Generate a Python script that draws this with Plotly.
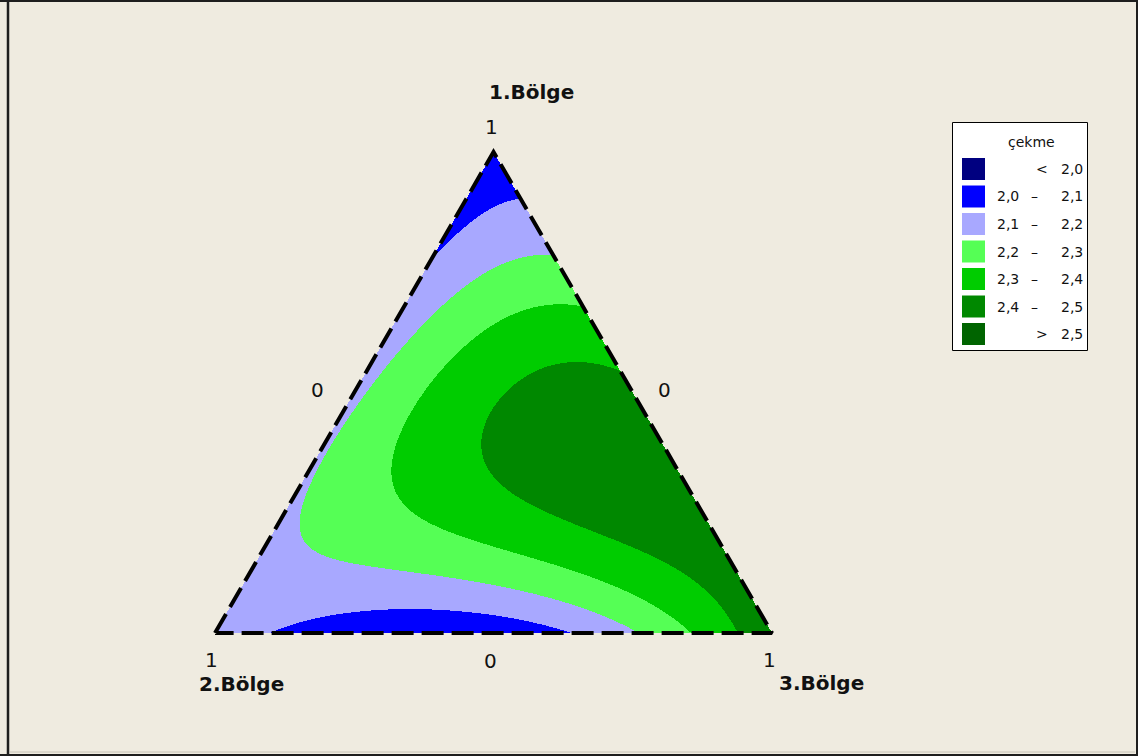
import numpy as np
import plotly.graph_objects as go

W, H = 1138, 756

# Mixture readings: component fractions and measured shrinkage (çekme)
bolge1 = [1.000, 0.000, 0.000,
          0.894, 0.879, 0.844, 0.771, 0.000, 0.021, 0.048, 0.054, 0.042, 0.033, 0.017, 0.000,
          0.780, 0.790, 0.769, 0.719, 0.615, 0.568, 0.484, 0.339, 0.193, 0.173, 0.152, 0.131,
          0.114, 0.094, 0.069, 0.000, 0.400, 0.260,
          0.713, 0.651, 0.484, 0.374, 0.312, 0.220, 0.173, 0.125, 0.062, 0.000,
          0.530, 0.526, 0.547, 0.536, 0.499, 0.407, 0.339, 0.304, 0.249, 0.193, 0.152, 0.116, 0.000,
          0.339, 0.235, 0.339, 0.318, 0.069, 0.500, 0.250, 0.650, 0.000]
bolge2 = [0.000, 1.000, 0.000,
          0.000, 0.047, 0.118, 0.229, 0.901, 0.855, 0.739, 0.617, 0.503, 0.454, 0.399, 0.363,
          0.000, 0.037, 0.102, 0.186, 0.359, 0.400, 0.484, 0.629, 0.774, 0.778, 0.748, 0.579,
          0.526, 0.423, 0.333, 0.241, 0.568, 0.708,
          0.000, 0.161, 0.366, 0.498, 0.534, 0.498, 0.378, 0.223, 0.206, 0.142,
          0.000, 0.021, 0.100, 0.160, 0.243, 0.325, 0.354, 0.359, 0.279, 0.189, 0.160, 0.071, 0.070,
          0.210, 0.047, 0.426, 0.616, 0.813, 0.500, 0.750, 0.350, 0.620]
bolge3 = [0.000, 0.000, 1.000,
          0.106, 0.074, 0.038, 0.000, 0.099, 0.124, 0.213, 0.329, 0.455, 0.513, 0.584, 0.637,
          0.220, 0.173, 0.129, 0.095, 0.026, 0.032, 0.032, 0.032, 0.033, 0.049, 0.100, 0.290,
          0.360, 0.483, 0.598, 0.759, 0.032, 0.032,
          0.287, 0.188, 0.150, 0.128, 0.154, 0.282, 0.449, 0.652, 0.732, 0.858,
          0.470, 0.453, 0.353, 0.304, 0.258, 0.268, 0.307, 0.337, 0.472, 0.618, 0.688, 0.813, 0.930,
          0.451, 0.718, 0.235, 0.066, 0.118, 0.000, 0.000, 0.000, 0.380]
cekme = [2.06, 2.14, 2.47,
         2.10, 2.10, 2.10, 2.10, 2.10, 2.10, 2.10, 2.10, 2.10, 2.10, 2.10, 2.10,
         2.20, 2.20, 2.20, 2.20, 2.20, 2.20, 2.20, 2.20, 2.20, 2.20, 2.20, 2.20,
         2.20, 2.20, 2.20, 2.20, 2.20, 2.20,
         2.30, 2.30, 2.30, 2.30, 2.30, 2.30, 2.30, 2.30, 2.30, 2.30,
         2.40, 2.40, 2.40, 2.40, 2.40, 2.40, 2.40, 2.40, 2.40, 2.40, 2.40, 2.40, 2.40,
         2.46, 2.47, 2.35, 2.25, 2.13, 2.18, 2.18, 2.15, 2.04]

levels = [2.0, 2.1, 2.2, 2.3, 2.4, 2.5]
band_colors = ["#000080", "#0000FF", "#A8A8FF", "#55FF55", "#00CC00", "#008800", "#006400"]
band_lo = ["", "2,0", "2,1", "2,2", "2,3", "2,4", ""]
band_mid = ["<", "–", "–", "–", "–", "–", ">"]
band_hi = ["2,0", "2,1", "2,2", "2,3", "2,4", "2,5", "2,5"]

BG = "#EFEBE0"


def quartic_terms(a, b, c):
    # Scheffé quartic mixture model
    return np.stack([a, b, c, a * b, a * c, b * c,
                     a * b * (a - b), a * c * (a - c), b * c * (b - c),
                     a * b * (a - b) ** 2, a * c * (a - c) ** 2, b * c * (b - c) ** 2,
                     a * a * b * c, a * b * b * c, a * b * c * c], axis=-1)


X = quartic_terms(np.array(bolge1), np.array(bolge2), np.array(bolge3))
coef, *_ = np.linalg.lstsq(X, np.array(cekme), rcond=None)

# Cartesian simplex: horizontal u, vertical v (= component 1)
nu, nv = 557, 481
u = (np.arange(nu) + 0.5) / nu
v = (np.arange(nv) + 0.5) / nv
U, V = np.meshgrid(u, v)
x1 = V
x3 = U - 0.5 * V
x2 = 1.0 - x1 - x3
inside = (x2 >= -1e-9) & (x3 >= -1e-9)
Z = quartic_terms(x1, x2, x3) @ coef
band = np.digitize(Z, levels).astype(float)
band[~inside] = np.nan

n = len(band_colors)
colorscale = []
for i, c in enumerate(band_colors):
    colorscale += [[i / n, c], [(i + 1) / n, c]]

fig = go.Figure()
fig.add_trace(go.Heatmap(x=u, y=v, z=band, zmin=-0.5, zmax=n - 0.5,
                         colorscale=colorscale, showscale=False, hoverinfo="skip"))
fig.add_trace(go.Scatter(x=[0, 0.5, 1, 0], y=[0, 1, 0, 0], mode="lines",
                         line=dict(color="black", width=4, dash="22px,8px"),
                         hoverinfo="skip", showlegend=False))


def px(x):
    return x / W


def py(y):
    return 1 - y / H


annotations = []
lab_font = dict(family="DejaVu Sans", size=20, color="#111111")
bold_font = dict(family="DejaVu Sans", size=20, color="#111111", weight="bold")


def add_text(x, y, text, font, xanchor="center"):
    annotations.append(dict(x=px(x), y=py(y), xref="paper", yref="paper", text=text,
                            showarrow=False, font=font, xanchor=xanchor, yanchor="middle"))


add_text(531, 92, "<b>1.Bölge</b>", bold_font)
add_text(491, 127, "1", lab_font)
add_text(317, 390, "0", lab_font)
add_text(665, 390, "0", lab_font)
add_text(490, 661, "0", lab_font)
add_text(211, 660, "1", lab_font)
add_text(769, 660, "1", lab_font)
add_text(241, 684, "<b>2.Bölge</b>", bold_font)
add_text(821, 683, "<b>3.Bölge</b>", bold_font)

shapes = []
# legend box
shapes.append(dict(type="rect", xref="paper", yref="paper", x0=px(952.5), x1=px(1087.5),
                   y0=py(350.5), y1=py(122.5), fillcolor="white",
                   line=dict(color="black", width=1)))
leg_font = dict(family="DejaVu Sans", size=14, color="#111111")
add_text(1031, 142, "çekme", leg_font)
for i in range(n):
    yc = 169 + i * 27.5
    shapes.append(dict(type="rect", xref="paper", yref="paper", x0=px(962), x1=px(985),
                       y0=py(yc + 11), y1=py(yc - 11), fillcolor=band_colors[i],
                       line=dict(width=0)))
    if band_lo[i]:
        add_text(1021, yc, band_lo[i], leg_font, xanchor="right")
        add_text(1034, yc, band_mid[i], leg_font)
    else:
        add_text(1042, yc, band_mid[i], leg_font)
    add_text(1059, yc, band_hi[i], leg_font, xanchor="left")

# window frame
frame = "#1e1e1e"
for x0, y0, x1_, y1_, w in [(8, 0, 8, H, 2.5), (0, 1, W, 1, 2), (1137, 0, 1137, H, 2),
                            (0, 755, W, 755, 2)]:
    shapes.append(dict(type="line", xref="paper", yref="paper", x0=px(x0), x1=px(x1_),
                       y0=py(y0), y1=py(y1_), line=dict(color=frame, width=w)))
shapes.append(dict(type="line", xref="paper", yref="paper", x0=px(10), x1=px(1135),
                   y0=py(752), y1=py(752), line=dict(color="#C8C4B8", width=1)))

fig.update_layout(
    width=W, height=H, margin=dict(l=0, r=0, t=0, b=0),
    paper_bgcolor=BG, plot_bgcolor=BG,
    xaxis=dict(range=[-215 / 557, (W - 215) / 557], visible=False, fixedrange=True),
    yaxis=dict(range=[-(H - 633) / 481, 633 / 481], visible=False, fixedrange=True),
    showlegend=False, annotations=annotations, shapes=shapes,
)
fig.write_html("out.html")
